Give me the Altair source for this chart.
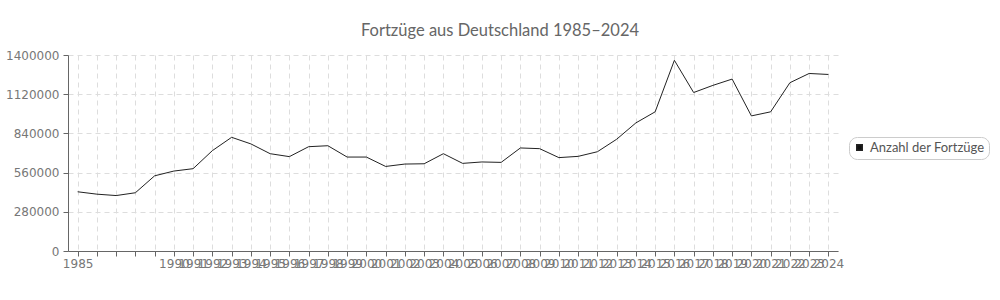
import altair as alt
import pandas as pd

years = [str(y) for y in range(1985, 2025)]
values = [423000, 406000, 396000, 416000, 537000, 571000, 588000, 717000, 812000, 765000,
          695000, 674000, 745000, 752000, 671000, 671000, 604000, 621000, 623000, 695000,
          626000, 636000, 633000, 736000, 731000, 667000, 676000, 709000, 798000, 915000,
          994000, 1362000, 1132000, 1183000, 1228000, 965000, 994000, 1202000, 1268000, 1261000]
series_name = "Anzahl der Fortzüge"
hidden_labels = ["1986", "1987", "1988", "1989"]
y_ticks = [0, 280000, 560000, 840000, 1120000, 1400000]

df = pd.DataFrame({"Jahr": years, "Wert": values, "Serie": [series_name] * len(years)})

hide_expr = " || ".join([f"datum.value == '{h}'" for h in hidden_labels])

chart = alt.Chart(df).mark_line(strokeWidth=1).encode(
    x=alt.X("Jahr:O", scale=alt.Scale(type="point", padding=0.5),
            axis=alt.Axis(title=None, labelAngle=0, labelOverlap=False,
                          labelExpr=f"({hide_expr}) ? '' : datum.label",
                          grid=True, gridDash=[5, 4], gridColor="#dddddd",
                          domainColor="#666666", tickColor="#666666",
                          labelColor="#777777", labelFont="DejaVu Sans", labelFontSize=12,
                          labelPadding=2)),
    y=alt.Y("Wert:Q", scale=alt.Scale(domain=[0, 1400000], nice=False),
            axis=alt.Axis(title=None, values=y_ticks, format="d",
                          grid=True, gridDash=[5, 4], gridColor="#dddddd",
                          domainColor="#666666", tickColor="#666666",
                          labelColor="#777777", labelFont="DejaVu Sans", labelFontSize=12,
                          labelPadding=4)),
    color=alt.Color("Serie:N", scale=alt.Scale(range=["#222222"]),
                    legend=alt.Legend(title=None, orient="none", legendX=781, legendY=82,
                                      symbolType="square",
                                      symbolSize=30, symbolFillColor="#111111",
                                      symbolStrokeColor="#111111",
                                      labelFont="Lato", labelFontSize=13, labelColor="#555555",
                                      strokeColor="#cccccc", cornerRadius=8, padding=4)),
).properties(
    width=770, height=196,
    padding={"top": 22, "left": 5, "right": 5, "bottom": 5},
    title=alt.TitleParams("Fortzüge aus Deutschland 1985–2024", font="Lato",
                          fontSize=16.5, fontWeight="normal", color="#666666", offset=10,
                          dx=47),
).configure_view(stroke=None)

chart.save("out.html", embed_options={"renderer": "svg", "actions": False})
